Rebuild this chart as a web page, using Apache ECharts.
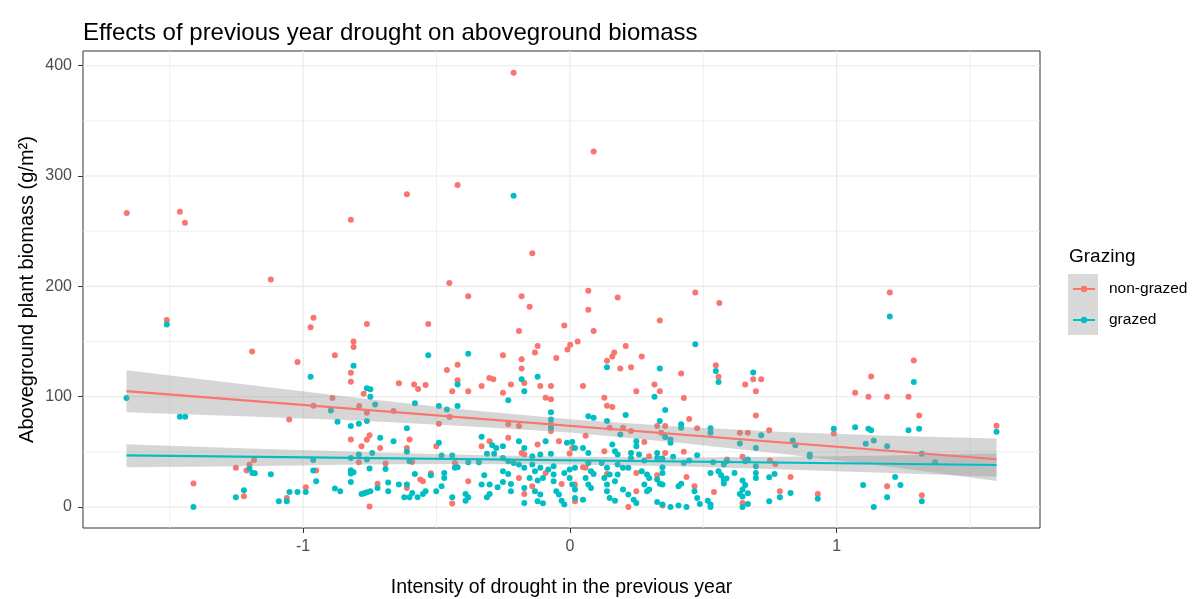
<!DOCTYPE html>
<html>
<head>
<meta charset="utf-8">
<script src="https://cdn.jsdelivr.net/npm/echarts@6/dist/echarts.min.js"></script>
<style>
  html, body { margin: 0; padding: 0; background: #fff; }
  #chart { width: 1194px; height: 599px; }
</style>
</head>
<body>
<div id="chart"></div>
<script>
// drought intensity (x) and biomass (y)
var nonGrazedX = [-1.661,-1.462,-1.443,-0.821,-0.611,-1.121,-0.211,0.089,-0.421,-0.141,
  -1.511,-0.961,-0.972,-1.191,-1.021,-0.961,-1.052,-1.184,-1.201,-1.252,-1.212,-0.951,-1.411,-1.222,-0.99,-1.061,
  -0.452,-0.381,-0.761,-0.531,-0.811,-0.811,-0.881,-0.461,-0.421,-0.821,-0.821,-0.641,-0.584,-0.569,-0.541,-0.421,
  -0.441,-0.381,-0.331,-0.302,-0.287,-0.773,-0.89,-0.79,-0.761,-0.661,-0.451,-0.491,-0.751,-0.761,-0.821,-0.601,
  -0.301,-0.331,-0.781,-0.711,-0.611,-0.501,-0.791,-0.691,-0.591,-0.431,-0.721,-0.611,-0.561,-0.551,-0.521,-0.441,
  -0.381,-0.751,
  0.069,-0.181,0.179,-0.151,0.069,-0.021,-0.191,0.089,-0.121,-0.131,0.001,-0.009,0.029,-0.251,-0.181,-0.181,-0.051,
  0.166,0.159,0.139,0.209,0.269,0.189,0.229,-0.221,-0.171,-0.111,-0.071,-0.251,-0.091,-0.071,0.049,0.249,0.129,
  0.139,0.159,-0.071,-0.071,-0.231,-0.191,0.149,0.199,0.229,0.059,-0.231,0.279,0.009,-0.041,-0.121,0.129,-0.181,
  -0.171,-0.001,-0.091,0.049,0.059,0.249,-0.141,-0.171,-0.031,0.019,0.019,0.139,0.219,0.249,-0.191,
  0.470,0.560,0.337,0.547,0.557,0.417,0.317,0.337,0.427,0.717,0.687,0.657,0.697,0.447,0.697,0.327,0.357,0.477,
  0.342,0.637,0.667,0.747,0.357,0.427,0.297,0.589,0.647,0.75,0.77,0.327,0.437,0.827,0.467,0.54,0.347,0.647,0.787,
  1.199,1.289,1.129,1.069,1.119,1.189,1.269,1.309,0.989,1.189,0.929,1.319,1.599];
var nonGrazedY = [266.4,267.6,257.6,260.4,283.4,206.2,393.6,322.2,291.9,230,
  169.4,171.5,163,141,131.5,91.8,79.4,42.7,38.5,35.5,33,33,21.3,9.7,17.9,8.2,
  203,191,165.8,165.8,150,145,137.6,124.3,129,121.8,113.6,112.2,111,107,110.6,115,
  105,105,109.7,117,115.8,102.7,98.8,91.5,85.5,87,81.5,75.5,65,61,61.2,61.2,
  59.7,55.2,55.2,53.6,53.6,55.2,40.6,39.4,40.9,40,21,17.3,25,23.4,30.6,3.1,
  23.4,0.5,
  196,191,190,181.5,178.8,164.5,159.5,159.5,146,140,147,142.7,150,137.6,134,125.5,135,
  140,136.4,132.5,146,136.4,125.5,126.7,111,112.5,109.7,109.7,103.6,99,97.6,109.7,105,99,
  91.8,90.6,75,68.8,75,73.4,71.8,71.8,68.8,64.5,62.7,59,53.6,59.7,56.7,50.6,49,
  47.6,48.5,30.9,36,35.5,30.9,18.8,11.8,20.9,20.4,5.2,30,0,14.3,26.4,
  194.5,185,169,128.5,118,121,111,105,98.8,115.8,115.8,111,105,79.7,83,73.4,73.4,71.3,
  67.3,67.3,67.3,69.5,49,50,46,43,45.5,42.2,39,28.8,27.3,27.3,18.8,13.6,1.5,3.6,14.3,
  194.5,132.7,118.2,103.6,100,100,100,83,66.7,18.8,11.8,10.6,73.6];

var grazedX = [-0.211,
  -1.511,-0.972,-1.662,-0.896,-1.462,-1.442,-0.962,-1.201,-1.19,-1.181,-1.121,-0.962,-0.951,-1.222,-1.252,-1.051,
  -1.021,-0.99,-1.091,-1.061,-1.411,
  -0.531,-0.381,-0.811,-0.421,-0.761,-0.748,-0.748,-0.73,-0.581,-0.491,-0.461,-0.421,-0.871,-0.821,-0.791,-0.761,
  -0.611,-0.711,-0.661,-0.331,-0.291,-0.276,-0.611,-0.491,-0.791,-0.741,-0.821,-0.761,-0.601,-0.481,-0.441,-0.381,
  -0.341,-0.311,-0.284,-0.821,-0.821,-0.811,-0.751,-0.691,-0.821,-0.881,-0.861,-0.781,-0.771,-0.761,-0.748,-0.721,
  -0.681,-0.681,-0.641,-0.611,-0.581,-0.521,-0.621,-0.601,-0.591,-0.571,-0.551,-0.541,-0.501,-0.481,-0.471,-0.471,
  -0.441,-0.431,-0.421,-0.391,-0.381,-0.391,-0.321,-0.331,-0.301,-0.311,-0.301,-0.271,
  0.139,-0.181,-0.121,-0.171,-0.231,-0.071,-0.071,0.069,0.089,0.139,0.209,-0.071,0.189,0.249,0.249,-0.091,-0.191,
  -0.171,-0.251,-0.011,0.009,0.019,0.049,0.069,0.159,0.169,0.179,0.229,0.229,0.259,0.279,-0.141,-0.111,-0.071,
  -0.251,-0.231,-0.211,-0.191,-0.171,-0.141,-0.131,-0.111,-0.081,-0.061,-0.021,-0.001,0.019,0.069,0.079,0.089,
  0.119,0.139,0.149,0.179,0.199,0.219,0.269,0.289,-0.251,-0.231,-0.251,-0.221,-0.151,-0.121,-0.101,-0.171,-0.131,
  -0.111,-0.221,-0.171,-0.121,-0.101,-0.061,-0.061,-0.051,-0.041,-0.031,-0.021,-0.001,0.009,0.019,0.019,0.049,
  0.059,0.069,0.079,0.129,0.139,0.139,0.149,0.169,0.179,0.169,0.199,0.219,0.239,0.249,0.279,0.289,
  0.470,0.337,0.547,0.557,0.317,0.687,0.357,0.337,0.417,0.417,0.527,0.527,0.357,0.377,0.377,0.717,0.637,0.697,
  0.835,0.845,0.327,0.327,0.347,0.387,0.477,0.427,0.447,0.537,0.577,0.587,0.657,0.667,0.697,0.697,0.697,0.347,
  0.347,0.297,0.327,0.337,0.347,0.407,0.417,0.527,0.557,0.567,0.577,0.587,0.577,0.617,0.647,0.657,0.647,0.637,
  0.647,0.667,0.747,0.767,0.467,0.477,0.487,0.517,0.527,0.527,0.297,0.327,0.347,0.377,0.407,0.437,0.647,0.667,
  0.747,0.787,0.827,
  1.199,1.289,0.989,1.069,1.119,1.129,1.269,1.309,1.109,1.139,1.189,0.899,0.899,1.319,1.369,1.219,1.239,1.099,
  0.929,1.189,1.319,1.139,1.599];
var grazedY = [282.2,
  165.5,118,98.8,87.6,81.8,81.8,42.7,34.9,30.9,30.6,29.7,33,23.4,15.2,8.8,13.6,
  13.6,13.6,5.2,5.2,0,
  137.6,139,128,111,107.6,106.7,100,93,94,91.5,88.5,91.5,77.3,73.4,75.5,78,
  71.3,62.7,59.7,63.6,56,53.6,50,58.2,47.6,49,44.5,43,41.5,46.7,46.7,40.6,
  40.6,48.2,48.2,33.4,30.4,31.5,34.9,34.5,22.7,16.7,14.3,11.8,12.6,13.4,14.3,17.3,
  22.2,14.3,20.4,20.4,30,28.8,8.8,8.8,12.7,8.8,11.8,14.3,14.3,18.8,26.4,30.9,
  8.8,35.5,36,5.8,8.8,11.8,28.8,20.4,20.4,8.8,11.8,17.9,
  126.7,115.8,118,105,96.7,85.8,79.4,82.2,81,78,83.4,72,65.8,59.7,55.2,59.7,59.7,
  53.6,55.2,58.2,59,53.6,53.6,49,56.7,50.6,47.6,49,44.5,47.6,42.2,46,47.6,48.2,
  44.5,41.5,40,38.5,35.5,38.5,32.5,35.5,34,37,30.9,34,35.5,40,32.5,30,
  40,35.5,29.5,38.5,35.5,35.5,32.5,29.5,32.5,30,22.7,20.9,26.4,24,26.4,17.3,14.3,
  11.3,14.3,3.6,5.2,3.4,29.5,23.4,14.3,11.3,5.8,2.2,26.4,20.4,15.8,8.2,6.7,
  26.4,20.4,17.3,26.4,20.4,14.3,8.2,23.4,29.5,5.8,15.8,11.3,6.7,3.6,20.4,14.3,
  147.6,125.5,123.4,113.4,100,122,88,78,75,71.8,71.3,67.3,63.4,61.2,58.2,65,57.6,53.6,
  60.4,56,49,44.5,44,45.5,47,40,42.2,40.6,38.5,41.5,41.5,43,37,30.9,26.4,36,
  30.9,26.4,25,21,20.4,18.8,21,30.9,32.5,28.8,25,25.9,21.3,30.9,24,20,16,11.8,
  9.5,12.5,27,30,14.3,8.2,2.7,5.8,2.2,0,15.8,4.5,2.2,0,1.3,0,0,2.7,
  5.2,8.8,12.7,
  172.7,113.4,71,72.2,71,69.7,69.7,71,57.3,60.4,55.2,47.6,45.8,48.2,40.6,27.3,20,20,
  7.6,8.8,5.2,0,68.2];

// fitted lines (end points) and confidence bands
var fitX = [-1.662, 1.599];
var nonGrazedFit = [105, 43.3];
var grazedFit = [46.9, 38.1];
var bandX = [-1.662, -1.2, -0.8, -0.4, 0, 0.4, 0.8, 1.2, 1.599];
var nonGrazedUpper = [124, 110.5, 99, 88.5, 79.5, 73, 68, 64.5, 62];
var nonGrazedLower = [86, 82, 78.5, 73.5, 67.5, 58.5, 48, 36.5, 23.5];
var grazedUpper = [57, 53, 50, 47.3, 45.5, 45, 45.5, 46.8, 48.5];
var grazedLower = [36, 37, 38.5, 39, 38.5, 37, 34, 30.8, 27.5];

// ticks
var xMajor = [-1, 0, 1];
var xMinor = [-1.5, -0.5, 0.5, 1.5];
var yMajor = [0, 100, 200, 300, 400];
var yMinor = [50, 150, 250, 350];

var RED = '#F8766D', TEAL = '#00BFC4';
var FONT = '"Liberation Sans", Arial, sans-serif';

function pairs(xs, ys) {
  return xs.map(function (x, i) { return [x, ys[i]]; });
}

// [orientation 0=vertical 1=horizontal, value, major?]
var gridData = []
  .concat(xMajor.map(function (v) { return [0, v, 1]; }))
  .concat(xMinor.map(function (v) { return [0, v, 0]; }))
  .concat(yMajor.map(function (v) { return [1, v, 1]; }))
  .concat(yMinor.map(function (v) { return [1, v, 0]; }));

function bandSeries(name, upper, lower, z) {
  return {
    name: name, type: 'custom', z: z, silent: true,
    data: [[0, 0]],
    renderItem: function (params, api) {
      var pts = [];
      for (var i = 0; i < bandX.length; i++) pts.push(api.coord([bandX[i], upper[i]]));
      for (var j = bandX.length - 1; j >= 0; j--) pts.push(api.coord([bandX[j], lower[j]]));
      return { type: 'polygon', shape: { points: pts }, style: { fill: 'rgba(153,153,153,0.4)' } };
    }
  };
}

var chart = echarts.init(document.getElementById('chart'));
chart.setOption({
  animation: false,
  backgroundColor: '#fff',
  textStyle: { fontFamily: FONT },
  title: [
    { text: 'Effects of previous year drought on aboveground biomass', left: 78, top: 16,
      textStyle: { fontFamily: FONT, fontSize: 24, fontWeight: 'normal', color: '#000' } },
    { text: 'Grazing', left: 1064, top: 242,
      textStyle: { fontFamily: FONT, fontSize: 19, fontWeight: 'normal', color: '#000' } }
  ],
  graphic: [
    { type: 'rect', left: 1068, top: 274, z: 0, shape: { width: 30, height: 61 }, style: { fill: '#d9d9d9' } }
  ],
  legend: {
    data: ['non-grazed', 'grazed'],
    orient: 'vertical', left: 1067, top: 276,
    itemWidth: 22, itemHeight: 8, itemGap: 15,
    textStyle: { fontFamily: FONT, fontSize: 15.5, color: '#000', padding: [0, 0, 0, 9] }
  },
  grid: { left: 83, top: 51, width: 957, height: 477, show: true, borderColor: '#333', borderWidth: 1,
    containLabel: false, outerBoundsMode: 'none' },
  xAxis: {
    type: 'value', min: -1.825, max: 1.762,
    splitLine: { show: false }, axisLine: { show: false, onZero: false },
    axisTick: { customValues: xMajor, length: 5, lineStyle: { color: '#333' } },
    axisLabel: { customValues: xMajor, color: '#4d4d4d', fontSize: 16, margin: 11, fontFamily: FONT },
    name: 'Intensity of drought in the previous year', nameLocation: 'middle', nameGap: 50,
    nameMoveOverlap: false,
    nameTextStyle: { fontFamily: FONT, fontSize: 19.5, color: '#000' }
  },
  yAxis: {
    type: 'value', min: -19, max: 413.3,
    splitLine: { show: false }, axisLine: { show: false, onZero: false },
    axisTick: { customValues: yMajor, length: 5, lineStyle: { color: '#333' } },
    axisLabel: { customValues: yMajor, color: '#4d4d4d', fontSize: 16, margin: 11, fontFamily: FONT },
    name: 'Aboveground plant biomass (g/m²)', nameLocation: 'middle', nameGap: 46,
    nameMoveOverlap: false,
    nameTextStyle: { fontFamily: FONT, fontSize: 20, color: '#000' }
  },
  series: [
    {
      name: 'gridlines', type: 'custom', z: 0, silent: true, data: gridData,
      renderItem: function (params, api) {
        var cs = params.coordSys;
        var w = api.value(2) ? 1.1 : 0.7;
        var p;
        if (api.value(0) === 0) {
          p = api.coord([api.value(1), 0]);
          return { type: 'line', shape: { x1: p[0], y1: cs.y, x2: p[0], y2: cs.y + cs.height },
            style: { stroke: '#e8e8e8', lineWidth: w } };
        }
        p = api.coord([0, api.value(1)]);
        return { type: 'line', shape: { x1: cs.x, y1: p[1], x2: cs.x + cs.width, y2: p[1] },
          style: { stroke: '#e8e8e8', lineWidth: w } };
      }
    },
    { name: 'non-grazed points', type: 'scatter', z: 2, symbolSize: 6, itemStyle: { color: RED, opacity: 1 },
      data: pairs(nonGrazedX, nonGrazedY) },
    { name: 'grazed points', type: 'scatter', z: 2, symbolSize: 6, itemStyle: { color: TEAL, opacity: 1 },
      data: pairs(grazedX, grazedY) },
    bandSeries('non-grazed band', nonGrazedUpper, nonGrazedLower, 3),
    bandSeries('grazed band', grazedUpper, grazedLower, 3),
    { name: 'non-grazed', type: 'line', z: 4, symbol: 'circle', symbolSize: 6, showSymbol: false,
      itemStyle: { color: RED }, lineStyle: { color: RED, width: 2.2 }, data: pairs(fitX, nonGrazedFit) },
    { name: 'grazed', type: 'line', z: 4, symbol: 'circle', symbolSize: 6, showSymbol: false,
      itemStyle: { color: TEAL }, lineStyle: { color: TEAL, width: 2.2 }, data: pairs(fitX, grazedFit) }
  ]
});
</script>
</body>
</html>
